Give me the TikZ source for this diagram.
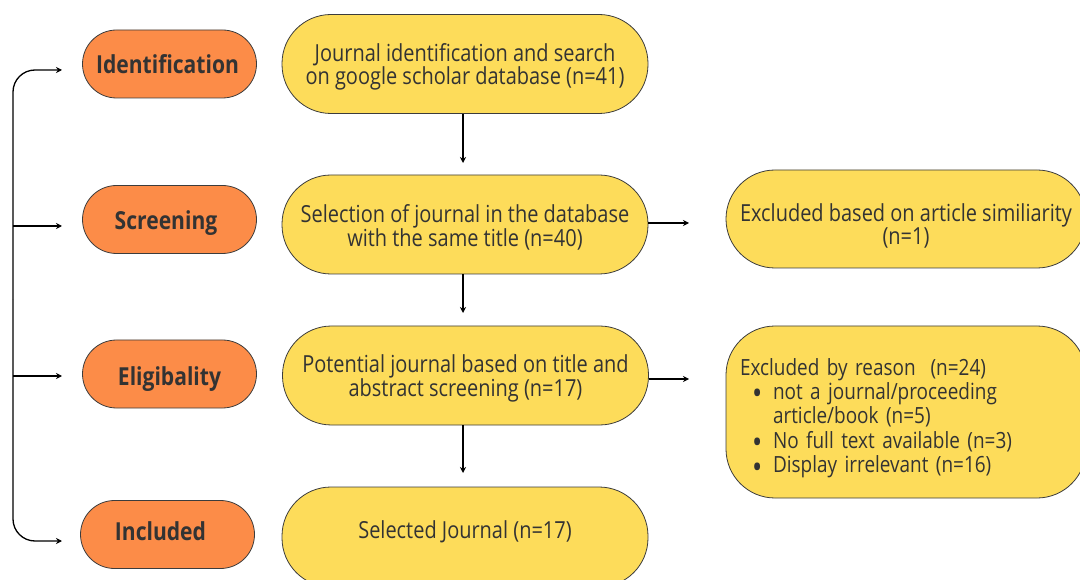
\documentclass[tikz,border=0pt]{standalone}
\usepackage{fontspec}
\setmainfont{Open Sans}[FakeStretch=0.85]
\usetikzlibrary{arrows.meta}
\definecolor{orangebox}{HTML}{FC8C48}
\definecolor{yellowbox}{HTML}{FDDC5A}
\definecolor{txt}{HTML}{333333}
\definecolor{edge}{HTML}{3C3C3C}
% \vstrut{height}{depth}: invisible strut
\newcommand{\vstrut}[2]{\rule[-#2]{0pt}{\dimexpr#1+#2\relax}}
\newcommand{\bul}{\makebox[21pt][l]{\smash{\raisebox{-5.5pt}{\fontsize{32}{24}\selectfont\textbullet}}}}
\tikzset{
  phase/.style={draw=edge, line width=0.8pt, fill=orangebox, rounded corners=34pt,
    minimum width=174pt, minimum height=68pt, inner sep=0pt, text=txt,
    font=\fontsize{24.8}{28}\selectfont\bfseries},
  stepbox/.style={draw=edge, line width=0.8pt, fill=yellowbox, rounded corners=49pt,
    minimum width=366pt, minimum height=99pt, inner sep=0pt, text=txt, align=center,
    font=\fontsize{23.5}{22.5}\selectfont},
  arr/.style={draw=black, line width=1.3pt, -{Stealth[length=6pt,width=6pt]}},
}
\begin{document}
\begin{tikzpicture}[x=1pt,y=-1pt]
\useasboundingbox (0,0) rectangle (1080,580);
\clip (0,0) rectangle (1080,580);
% phase labels
\node[phase] (ident) at (169.5,64) {\vstrut{30pt}{10pt}Identification\hspace*{4pt}};
\node[phase] (screen) at (169.5,219.5) {\vstrut{30pt}{10.4pt}Screening\hspace*{7pt}};
\node[phase] (elig) at (169.5,374) {\vstrut{30pt}{8pt}Eligibality};
\node[phase] (incl) at (167.5,534.5) {\vstrut{30pt}{17.6pt}Included\hspace*{14pt}};
% bracket coordinates
\coordinate (tipI) at (62,70);
\coordinate (tipS) at (62,226);
\coordinate (tipE) at (62,376);
\coordinate (tipN) at (62,541);
\coordinate (spS) at (13,226);
\coordinate (spE) at (13,376);
\coordinate (spMid) at (13,300);
\draw[arr, rounded corners=22pt] (spMid) |- (tipI);
\draw[arr, rounded corners=22pt] (spMid) |- (tipN);
\draw[arr] (spS) -- (tipS);
\draw[arr] (spE) -- (tipE);
% main boxes
\node[stepbox] (j1) at (465,64) {\vstrut{25pt}{0pt}Journal identification and search\\on google scholar database (n=41)\vstrut{0pt}{7.1pt}};
\node[stepbox] (j2) at (465,224.5) {\vstrut{27pt}{0pt}Selection of journal in the database\\with the same title (n=40)\vstrut{0pt}{6.9pt}};
\node[stepbox] (j3) at (465.5,375.5) {\vstrut{25pt}{0pt}Potential journal based on title and\\abstract screening (n=17)\vstrut{0pt}{7.1pt}};
\node[stepbox, minimum height=100pt] (j4) at (465,537) {\vstrut{25pt}{22.4pt}Selected Journal (n=17)};
% excluded boxes
\node[stepbox, minimum width=360pt, minimum height=98pt, font=\fontsize{23.5}{23}\selectfont] (ex1) at (906,219)
{\vstrut{35pt}{0pt}Excluded based on article similiarity\\(n=1)\vstrut{0pt}{6.6pt}};
\node[stepbox, minimum width=360pt, minimum height=172pt, align=left, text width=332pt, inner xsep=14pt,
  font=\fontsize{22.3}{24.4}\selectfont] (ex2) at (906,412)
{\vstrut{30pt}{0pt}Excluded by reason\ \ (n=24)\\
\hspace*{12pt}\bul not a journal/proceeding\\
\hspace*{33pt}article/book (n=5)\\
\hspace*{12pt}\bul No full text available (n=3)\\
\hspace*{12pt}\bul Display irrelevant (n=16)\vstrut{0pt}{6.4pt}};
% connectors
\coordinate (d1) at (463,163);
\coordinate (d2) at (463,313);
\coordinate (d3) at (463,473);
\coordinate (r1) at (689,223);
\coordinate (r2) at (689,379);
\draw[arr] (j1.south -| d1) -- (d1);
\draw[arr] (j2.south -| d2) -- (d2);
\draw[arr] (j3.south -| d3) -- (d3);
\draw[arr] (j2.east |- r1) -- (r1);
\draw[arr] (j3.east |- r2) -- (r2);
\end{tikzpicture}
\end{document}
